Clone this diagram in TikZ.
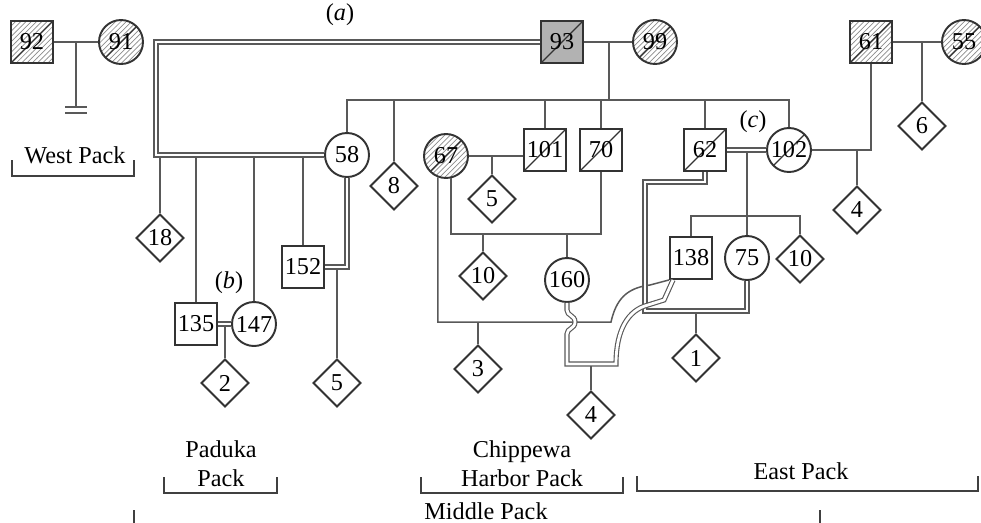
\documentclass[tikz,border=0pt]{standalone}
\usepackage{fontspec}
\setmainfont{Liberation Serif}
\usetikzlibrary{positioning,shapes.geometric,patterns,calc}

\begin{document}
\begin{tikzpicture}[
    x=0.02cm, y=-0.02cm,
    font=\fontsize{13.8}{16.4}\selectfont,
    male/.style={rectangle, draw=black!80, line width=1.1pt, minimum size=0.84cm, inner sep=0pt},
    female/.style={circle, draw=black!80, line width=1.1pt, minimum size=0.88cm, inner sep=0pt},
    pup/.style={diamond, draw=black!80, line width=1.1pt, minimum size=0.96cm, inner sep=0pt},
    founder/.style={pattern=north east lines, pattern color=black!45},
    dead/.style={path picture={\draw[black!80, line width=0.7pt] (path picture bounding box.south west) -- (path picture bounding box.north east);}},
    link/.style={draw=black!65, line width=0.85pt},
    inbred/.style={draw=black!65, line width=0.65pt, double, double distance=1.6pt},
    packbracket/.style={draw=black!75, line width=1.1pt}
]
\useasboundingbox (0,0) rectangle (981,522);
\clip (0,0) rectangle (981,522);

% West Pack founders
\node[male, founder, dead] (w92) at (32,42) {92};
\node[female, founder, dead] (w91) at (121,42) {91};
\coordinate (m9291) at (76,42);
\coordinate (nokids) at (76,107);
\draw[link] (w92) -- (w91);
\draw[link] (m9291) -- (nokids);
\draw[link] ($(nokids)+(-11,0)$) -- ($(nokids)+(11,0)$)
            ($(nokids)+(-11,6)$) -- ($(nokids)+(11,6)$);

% 93 x 99 and their litter
\node[male, fill=black!30, dead] (w93) at (562,42) {93};
\node[female, founder, dead] (w99) at (655,42) {99};
\coordinate (m9399) at (609,42);
\coordinate (sib93) at (609,100);
\draw[link] (w93) -- (w99);
\draw[link] (m9399) -- (sib93);

\node[female] (w58) at (347,155) {58};
\node[pup] (w8) at (394,186) {8};
\node[male, dead] (w101) at (545,150) {101};
\node[male, dead] (w70) at (601,150) {70};
\node[male, dead] (w62) at (705,150) {62};
\node[female, dead] (w102) at (789,150) {102};
\draw[link] (w58.north) -- (w58 |- sib93) -- (w102 |- sib93) -- (w102.north);
\foreach \kid in {w8, w101, w70, w62} \draw[link] (\kid.north) -- (\kid |- sib93);

% (a) 93 x 58
\coordinate (acorner) at (156,155);
\node[pup] (w18) at (160,238) {18};
\node[male] (w135) at (196,324) {135};
\node[female] (w147) at (254,324) {147};
\node[male] (w152) at (303,267) {152};
\foreach \kid in {w18, w135, w147, w152} \draw[link] (\kid.north) -- (\kid |- acorner);
\draw[inbred] (w93.west) -| (acorner) -- (w58.west);
\node (alabel) at (340,15) {(\textit{a})};

% (b) 135 x 147
\coordinate (m135147) at (225,324);
\node[pup] (w2) at (225,383) {2};
\draw[link] (m135147) -- (w2.north);
\draw[inbred] (w135) -- (w147);
\node (blabel) at (229,283) {(\textit{b})};

% 58 x 152
\coordinate (m58152) at (337,267);
\node[pup] (w5b) at (337,383) {5};
\draw[link] (m58152) -- (w5b.north);
\draw[inbred] (w58.south) |- (w152.east);

% Chippewa Harbor
\node[female, founder, dead] (w67) at (446,156) {67};
\coordinate (m67101) at (492,156);
\node[pup] (w5a) at (492,199) {5};
\draw[link] (w67) -- (w67 -| w101.west);
\draw[link] (m67101) -- (w5a.north);

\coordinate (m6770) at (601,234);
\node[pup] (w10a) at (483,276) {10};
\node[female] (w160) at (567,280) {160};
\draw[link] (w67.-78) |- (m6770) -- (w70.south);
\draw[link] (w10a.north) -- (w10a |- m6770);
\draw[link] (w160.north) -- (w160 |- m6770);

\node[male] (w138) at (691,258) {138};
\coordinate (m67138) at (611,322);
\node[pup] (w3) at (478,369) {3};
\draw[link] (w67.-111) |- (m67138) .. controls (616,300) and (626,288) .. (650,285) -- (w138.south west);
\draw[link] (w3.north) -- (w3 |- m67138);

% (c) 62 x 102 and the East side
\coordinate (m62102) at (747,150);
\coordinate (sib62) at (747,216);
\node[female] (w75) at (747,258) {75};
\node[pup] (w10b) at (800,259) {10};
\draw[link] (m62102) -- (w75.north);
\draw[link] (w138.north) |- (sib62) -| (w10b.north);
\draw[inbred] (w62) -- (w102);
\node (clabel) at (753,122) {(\textit{c})};

% 62 x 75
\coordinate (c62a) at (645,182);
\coordinate (c62b) at (645,311);
\coordinate (m6275) at (696,311);
\node[pup] (w1) at (696,358) {1};
\draw[link] (m6275) -- (w1.north);
\draw[inbred] (w62.south) |- (c62a) -- (c62b) -| (w75.south);

% 160 x 138
\coordinate (m160138) at (616,364);
\node[pup] (w4b) at (591,415) {4};
\draw[link] (w4b.north) -- (w4b |- m160138);
\draw[inbred] (w160.south) -- (567,310) .. controls (567,316) and (575,315) .. (575,322)
    .. controls (575,329) and (567,328) .. (567,334) |- (m160138)
    .. controls (616,330) and (628,310) .. (648,305) -- (664,300) -- ($(w138.south west)+(4,0)$);

% East Pack founders
\node[male, founder, dead] (w61) at (871,42) {61};
\node[female, founder, dead] (w55) at (964,42) {55};
\coordinate (m6155) at (922,42);
\node[pup] (w6) at (922,126) {6};
\draw[link] (w61) -- (w55);
\draw[link] (m6155) -- (w6.north);
\coordinate (m61102) at (857,150);
\node[pup] (w4a) at (857,210) {4};
\draw[link] (w61.south) |- (w102.east);
\draw[link] (m61102) -- (w4a.north);

% Packs
\node (westlbl) at (75,155) {West Pack};
\draw[packbracket] (12,160) -- (12,176) -- (134,176) -- (134,160);
\node[align=center] (padukalbl) at (221,464) {Paduka\\Pack};
\draw[packbracket] (164,477) -- (164,493) -- (277,493) -- (277,477);
\node[align=center] (chippewalbl) at (522,464) {Chippewa\\Harbor Pack};
\draw[packbracket] (421,477) -- (421,493) -- (623,493) -- (623,477);
\node (eastlbl) at (801,471) {East Pack};
\draw[packbracket] (637,476) -- (637,491) -- (978,491) -- (978,476);
\node (middlelbl) at (486,511) {Middle Pack};
\draw[packbracket] (134,510) -- (134,540) -- (820,540) -- (820,510);

\end{tikzpicture}
\end{document}
